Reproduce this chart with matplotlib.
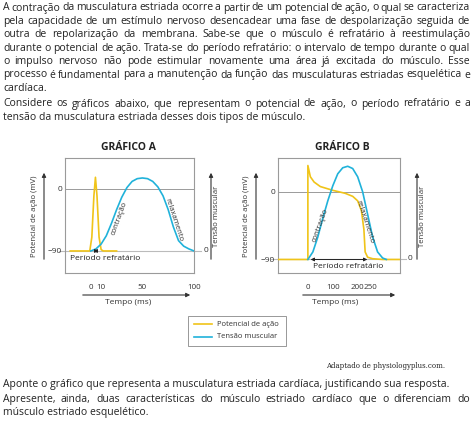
import matplotlib
matplotlib.use("Agg")
import matplotlib.pyplot as plt

W, H = 474, 425
YEL = "#F0C419"
BLU = "#20B2DA"
GRY = "#9A9A9A"
TXT = "#222222"
FONT = "Open Sans"

para_top = [
    "A contração da musculatura estriada ocorre a partir de um potencial de ação, o qual se caracteriza",
    "pela capacidade de um estímulo nervoso desencadear uma fase de despolarização seguida de",
    "outra de repolarização da membrana. Sabe-se que o músculo é refratário à reestimulação",
    "durante o potencial de ação. Trata-se do período refratário: o intervalo de tempo durante o qual",
    "o impulso nervoso não pode estimular novamente uma área já excitada do músculo. Esse",
    "processo é fundamental para a manutenção da função das musculaturas estriadas esquelética e",
    "cardíaca.",
]
para_mid = [
    "Considere os gráficos abaixo, que representam o potencial de ação, o período refratário e a",
    "tensão da musculatura estriada desses dois tipos de músculo.",
]
para_bot1 = ["Aponte o gráfico que representa a musculatura estriada cardíaca, justificando sua resposta."]
para_bot2 = [
    "Apresente, ainda, duas características do músculo estriado cardíaco que o diferenciam do",
    "músculo estriado esquelético.",
]

# Graph A
a_xticks = [0, 10, 50, 100]
a_ap_x = [-20, -1, 1, 3, 4.5, 6, 8, 10, 12, 25]
a_ap_y = [-90, -90, -70, -10, 17, -10, -70, -88, -90, -90]
a_t_x = [0, 5, 10, 15, 20, 25, 30, 35, 40, 45, 50, 55, 60, 65, 70, 75, 80, 85, 90, 95, 100]
a_t_y = [-90, -87, -80, -68, -50, -30, -12, 2, 11, 15, 16, 15, 11, 3, -10, -30, -55, -75, -83, -87, -90]
# Graph B
b_xticks = [0, 100, 200, 250]
b_ap_x = [-120, 0, 0, 10, 25, 50, 100, 150, 180, 200, 215, 225, 230, 240, 260, 300, 370]
b_ap_y = [-90, -90, 35, 20, 13, 7, 2, -2, -6, -12, -25, -50, -80, -87, -89, -90, -90]
b_t_x = [0, 20, 40, 60, 80, 100, 120, 140, 160, 180, 200, 220, 240, 260, 280, 300, 315]
b_t_y = [-90, -80, -60, -35, -12, 8, 24, 32, 34, 31, 20, 0, -30, -60, -80, -88, -90]

fig = plt.figure(figsize=(W / 100, H / 100), dpi=100)
fig.patch.set_facecolor("white")
renderer = fig.canvas.get_renderer()

def fx(x): return x / W
def fy(y): return 1 - y / H

fs = 7.5
X0, X1 = 3, 470

def tw(s):
    t = fig.text(0, 0, s, fontsize=fs, family=FONT)
    w = t.get_window_extent(renderer).width
    t.remove()
    return w

def lines(ls, y0, step=13.4):
    space = tw("a a") - tw("aa")
    for i, s in enumerate(ls):
        y = fy(y0 + i * step)
        if i == len(ls) - 1:
            fig.text(fx(X0), y, s, fontsize=fs, family=FONT, color=TXT, va="center")
            continue
        words = s.split(" ")
        full = tw(s)
        extra = (X1 - X0 - full) / (len(words) - 1)
        for k, w in enumerate(words):
            x = X0 if k == 0 else X0 + tw(" ".join(words[:k])) + space + k * extra
            fig.text(fx(x), y, w, fontsize=fs, family=FONT, color=TXT, va="center")

lines(para_top, 8)
lines(para_mid, 104)
lines(para_bot1, 385)
lines(para_bot2, 399.5)
fig.text(fx(326), fy(366), "Adaptado de physiologyplus.com.", fontsize=5, family="DejaVu Serif", color=TXT, va="center")

def arrow(x0, y0, x1, y1):
    fig.add_artist(matplotlib.patches.FancyArrowPatch((fx(x0), fy(y0)), (fx(x1), fy(y1)),
                   transform=fig.transFigure, arrowstyle="-|>", mutation_scale=6, color="#333", lw=0.8))

def panel(box, xlim, ylim, ticks, ap_x, ap_y, t_x, t_y, title, tcx, la_x, ra_x, ref_end, ref_text_x, ref_y_off,
          contr, relax, ext):
    l, r, t, b = box
    ax = fig.add_axes([fx(l), fy(b), fx(r) - fx(l), (b - t) / H])
    ax.set_xlim(*xlim); ax.set_ylim(*ylim)
    for s in ax.spines.values():
        s.set_color(GRY); s.set_linewidth(0.8)
    ax.axhline(0, color=GRY, lw=0.7)
    ax.plot(ext, [-90, -90], color="#BBBBBB", lw=0.8, clip_on=False, zorder=1)
    ax.plot(ap_x, ap_y, color=YEL, lw=1.2, zorder=3)
    ax.plot(t_x, t_y, color=BLU, lw=1.2, zorder=3)
    ax.set_xticks(ticks)
    ax.set_xticklabels([str(v) for v in ticks], fontsize=5.8, family=FONT, color="#333")
    ax.set_yticks([-90, 0])
    ax.set_yticklabels(["−90", "0"], fontsize=6, family=FONT, color="#333")
    ax.tick_params(length=0, axis="x", pad=8)
    ax.tick_params(length=0, axis="y", pad=2)
    ax.annotate("", xy=(ref_end, -90), xytext=(0, -90),
                arrowprops=dict(arrowstyle="<|-|>", color="#222", lw=0.7, mutation_scale=5), zorder=4)
    ax.text(ref_text_x, -90 - ref_y_off, "Período refratário", fontsize=6, family=FONT, color="#222", va="center")
    ax.text(*contr, "contração", fontsize=5.5, family=FONT, color="#333", rotation=70, ha="center", va="center")
    ax.text(*relax, "relaxamento", fontsize=5.5, family=FONT, color="#333", rotation=-72, ha="center", va="center")
    fig.text(fx(tcx), fy(147), title, fontsize=7.5, weight="bold", family=FONT, ha="center", va="center", color="#222")
    arrow(la_x, 262, la_x, 170)
    fig.text(fx(la_x - 9), fy(216), "Potencial de ação (mV)", rotation=90, fontsize=5.6, family=FONT, ha="center", va="center", color="#333")
    arrow(ra_x, 262, ra_x, 170)
    fig.text(fx(ra_x + 6), fy(216), "Tensão muscular", rotation=90, fontsize=5.6, family=FONT, ha="center", va="center", color="#333")
    return ax

axA = panel((65, 194, 158, 273), (-25, 100), (-122, 45), a_xticks, a_ap_x, a_ap_y, a_t_x, a_t_y,
            "GRÁFICO A", 128, 44, 211, 10, -20, 11, (28, -42), (80, -45), (-31, 107))
fig.text(fx(204), fy(251), "0", fontsize=6, family=FONT, va="center", color="#333")
arrow(80, 295, 193, 295)
fig.text(fx(128), fy(302), "Tempo (ms)", fontsize=6, family=FONT, ha="center", va="center", color="#333")

axB = panel((278, 400, 158, 273), (-120, 370), (-108, 45), b_xticks, b_ap_x, b_ap_y, b_t_x, b_t_y,
            "GRÁFICO B", 342, 256, 417, 250, 20, 9, (52, -45), (230, -40), (-150, 395))
fig.text(fx(408), fy(259), "0", fontsize=6, family=FONT, va="center", color="#333")
arrow(300, 295, 398, 295)
fig.text(fx(335), fy(302), "Tempo (ms)", fontsize=6, family=FONT, ha="center", va="center", color="#333")

fig.add_artist(matplotlib.patches.Rectangle((fx(188), fy(346)), (286 - 188) / W, 30 / H,
               transform=fig.transFigure, fill=False, ec="#888", lw=0.6))
for i, (c, s) in enumerate([(YEL, "Potencial de ação"), (BLU, "Tensão muscular")]):
    y = 324 + i * 13
    fig.add_artist(matplotlib.lines.Line2D([fx(194), fx(212)], [fy(y), fy(y)], color=c, lw=1.2,
                   transform=fig.transFigure))
    fig.text(fx(217), fy(y), s, fontsize=5.5, family=FONT, va="center", color="#333")

fig.savefig("out.png", dpi=100, facecolor="white")
